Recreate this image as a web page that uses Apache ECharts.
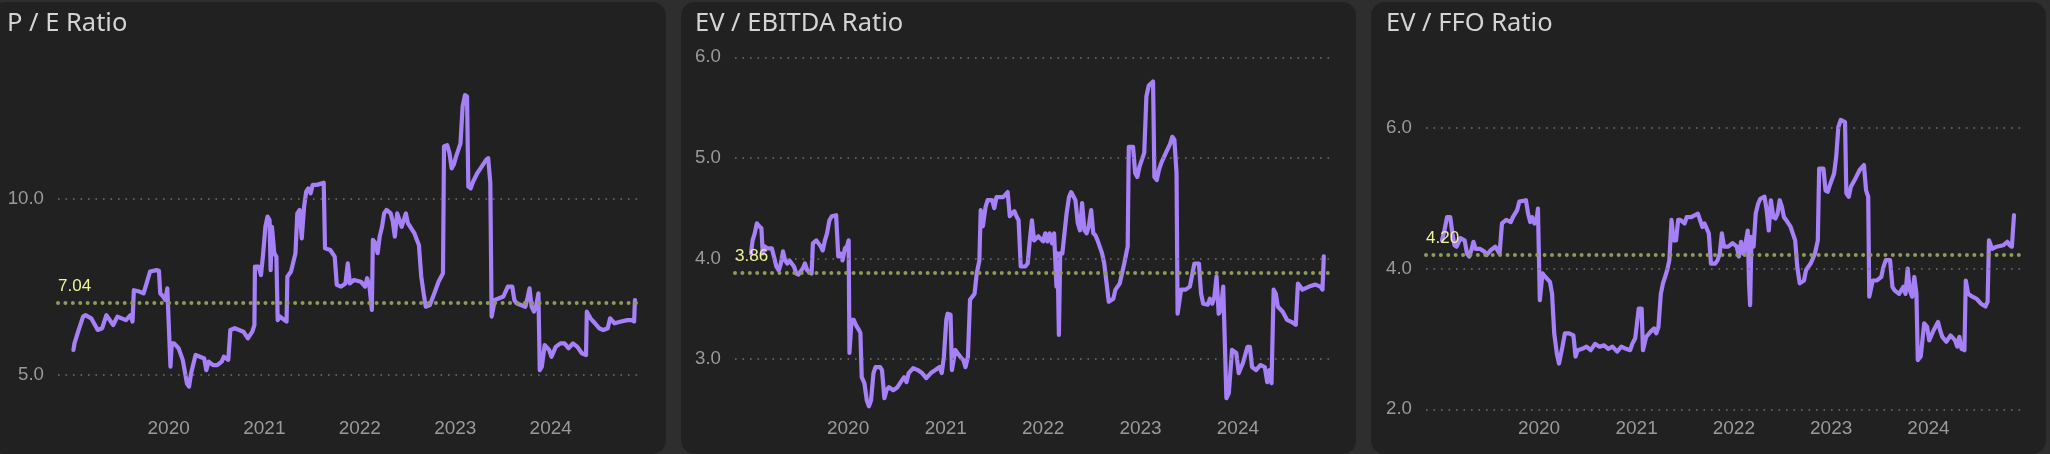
<!DOCTYPE html>
<html><head><meta charset="utf-8">
<script src="https://cdn.jsdelivr.net/npm/echarts@6/dist/echarts.min.js"></script>
<style>
html,body{margin:0;padding:0;background:#2e2e2e;width:2050px;height:454px;overflow:hidden;}
.panel{position:absolute;top:2px;height:452px;background:#212121;border-radius:14px;}
#chart{position:absolute;left:0;top:0;width:2050px;height:454px;}
</style></head><body>
<div class="panel" style="left:-9px;width:675px"></div>
<div class="panel" style="left:681px;width:675px"></div>
<div class="panel" style="left:1371px;width:675px"></div>
<div id="chart"></div>
<script>
const titles = ['P / E Ratio', 'EV / EBITDA Ratio', 'EV / FFO Ratio'];
const yearTicks = ['2020', '2021', '2022', '2023', '2024'];
const peTicks = [5, 10];
const ebitdaTicks = [3, 4, 5, 6];
const ffoTicks = [2, 4, 6];
const averages = [7.04, 3.86, 4.20];

const peDates = [
'2019-01-02','2019-01-06','2019-01-22','2019-02-08','2019-02-17','2019-03-11','2019-04-05','2019-04-22','2019-05-08','2019-06-03','2019-06-19','2019-07-22','2019-08-08','2019-08-16','2019-08-21','2019-09-11','2019-09-27','2019-10-05','2019-10-22','2019-11-16','2019-11-25','2019-11-30','2019-12-11','2019-12-19','2019-12-27',
'2020-01-02','2020-01-08','2020-01-13','2020-01-22','2020-02-08','2020-02-24','2020-03-11','2020-03-19','2020-03-27','2020-04-13','2020-04-30','2020-05-16','2020-05-24','2020-06-02','2020-06-19','2020-07-05','2020-07-22','2020-07-30','2020-08-16','2020-08-24','2020-09-10','2020-10-13','2020-10-30','2020-11-16','2020-11-24','2020-11-26','2020-12-10','2020-12-19','2020-12-27',
'2021-01-05','2021-01-13','2021-01-21','2021-01-25','2021-01-30','2021-02-08','2021-02-16','2021-02-21','2021-03-02','2021-03-19','2021-03-27','2021-03-30','2021-04-13','2021-04-30','2021-05-07','2021-05-16','2021-05-24','2021-06-02','2021-06-10','2021-06-18','2021-06-27','2021-07-05','2021-07-21','2021-08-16','2021-08-21','2021-09-10','2021-09-27','2021-10-05','2021-10-21','2021-11-07','2021-11-16','2021-11-24','2021-12-10',
'2022-01-05','2022-01-21','2022-01-29','2022-02-07','2022-02-16','2022-02-20','2022-03-02','2022-03-10','2022-03-18','2022-03-27','2022-04-04','2022-04-13','2022-04-29','2022-05-07','2022-05-15','2022-05-24','2022-06-10','2022-06-26','2022-07-04','2022-07-13','2022-07-29','2022-08-07','2022-08-15','2022-08-24','2022-09-02','2022-09-10','2022-09-26','2022-10-13','2022-10-29','2022-11-15','2022-11-19','2022-12-01','2022-12-10','2022-12-18','2022-12-26',
'2023-01-04','2023-01-21','2023-01-29','2023-02-07','2023-02-15','2023-02-20','2023-03-01','2023-03-10','2023-03-26','2023-04-12','2023-04-29','2023-05-07','2023-05-15','2023-05-20','2023-06-01','2023-06-18','2023-07-04','2023-07-21','2023-08-07','2023-08-15','2023-08-23','2023-09-09','2023-09-26','2023-10-04','2023-10-12','2023-10-20','2023-10-29','2023-11-07','2023-11-15','2023-11-20','2023-11-28','2023-12-09','2023-12-26',
'2024-01-04','2024-01-20','2024-02-07','2024-02-23','2024-03-09','2024-03-26','2024-04-12','2024-04-29','2024-05-15','2024-05-18','2024-06-01','2024-06-18','2024-07-04','2024-07-20','2024-08-06','2024-08-15','2024-09-01','2024-09-26','2024-10-20','2024-11-06','2024-11-15','2024-11-18'];
const peValues = [
5.71,5.90,6.28,6.66,6.70,6.61,6.28,6.33,6.70,6.42,6.66,6.56,6.70,6.52,7.41,7.37,7.32,7.51,7.94,7.98,7.96,7.32,7.23,7.13,7.46,
7.41,5.24,5.90,5.90,5.76,5.43,4.76,4.67,5.05,5.57,5.52,5.47,5.14,5.38,5.28,5.28,5.38,5.52,5.43,6.28,6.33,6.23,6.04,6.23,6.42,8.08,8.08,7.84,8.41,
9.21,9.50,9.40,7.98,9.21,8.46,8.36,6.56,6.66,6.56,6.52,7.79,7.94,8.46,9.59,9.69,8.88,9.78,10.21,10.30,10.16,10.40,10.40,10.46,8.60,8.55,8.36,7.56,7.51,7.60,8.17,7.60,7.70,
7.65,7.51,7.75,7.51,6.85,8.84,8.74,8.46,8.93,9.21,9.59,9.69,9.59,9.36,8.93,9.59,9.21,9.59,9.31,9.21,9.02,8.84,8.69,7.79,7.32,6.94,6.99,7.32,7.65,7.89,11.49,11.53,11.30,10.87,10.97,
11.20,11.58,12.62,12.95,12.91,10.35,10.30,10.49,10.73,10.92,11.11,11.16,10.45,6.66,7.13,7.18,7.23,7.51,7.51,7.13,7.04,6.99,6.94,7.18,7.46,6.94,6.80,6.99,7.32,5.14,5.24,5.85,5.71,
5.52,5.80,5.90,5.90,5.76,5.90,5.80,5.62,5.57,6.80,6.61,6.47,6.33,6.28,6.33,6.61,6.47,6.52,6.56,6.56,6.52,7.13];

const ebitdaDates = [
'2019-01-02','2019-01-08','2019-01-16','2019-01-24','2019-02-02','2019-02-10','2019-02-15','2019-02-22','2019-03-05','2019-03-21','2019-03-29','2019-04-07','2019-04-16','2019-04-24','2019-05-02','2019-05-10','2019-05-18','2019-05-26','2019-06-12','2019-06-21','2019-06-29','2019-07-15','2019-07-23','2019-08-01','2019-08-17','2019-08-22','2019-09-04','2019-09-20','2019-09-28','2019-10-06','2019-10-14','2019-10-23','2019-11-01','2019-11-17','2019-11-25','2019-12-03','2019-12-11','2019-12-20','2019-12-28',
'2020-01-03','2020-01-06','2020-01-14','2020-01-22','2020-01-30','2020-02-08','2020-02-16','2020-02-21','2020-03-02','2020-03-11','2020-03-19','2020-03-27','2020-04-05','2020-04-13','2020-04-30','2020-05-07','2020-05-16','2020-05-24','2020-06-02','2020-06-18','2020-07-04','2020-07-21','2020-07-29','2020-08-07','2020-08-15','2020-09-01','2020-09-18','2020-10-04','2020-10-20','2020-11-06','2020-11-23','2020-12-09','2020-12-17','2020-12-25',
'2021-01-03','2021-01-08','2021-01-19','2021-01-24','2021-02-06','2021-02-14','2021-02-28','2021-03-08','2021-03-16','2021-03-25','2021-04-02','2021-04-19','2021-04-27','2021-05-07','2021-05-12','2021-05-20','2021-05-30','2021-06-07','2021-06-24','2021-07-02','2021-07-10','2021-08-04','2021-08-21','2021-08-29','2021-09-15','2021-09-23','2021-10-01','2021-10-09','2021-10-26','2021-11-04','2021-11-12','2021-11-20','2021-11-28','2021-12-14',
'2022-01-01','2022-01-09','2022-01-17','2022-01-25','2022-02-03','2022-02-11','2022-02-20','2022-02-24','2022-03-01','2022-03-06','2022-03-14','2022-03-22','2022-03-30','2022-04-08','2022-04-16','2022-05-02','2022-05-11','2022-05-19','2022-05-27','2022-06-05','2022-06-13','2022-06-21','2022-06-30','2022-07-08','2022-07-16','2022-07-24','2022-08-10','2022-08-18','2022-08-27','2022-09-04','2022-09-21','2022-09-29','2022-10-15','2022-11-01','2022-11-14','2022-11-18','2022-12-04','2022-12-12','2022-12-20','2022-12-28',
'2023-01-15','2023-01-23','2023-02-01','2023-02-17','2023-02-22','2023-03-03','2023-03-11','2023-03-20','2023-04-06','2023-04-22','2023-04-30','2023-05-08','2023-05-16','2023-05-20','2023-06-02','2023-06-19','2023-07-05','2023-07-22','2023-08-08','2023-08-16','2023-08-24','2023-09-10','2023-09-18','2023-09-27','2023-10-05','2023-10-13','2023-10-21','2023-10-29','2023-11-07','2023-11-12','2023-11-19','2023-11-28','2023-12-10','2023-12-26',
'2024-01-04','2024-01-20','2024-02-06','2024-02-15','2024-02-23','2024-03-09','2024-03-25','2024-04-11','2024-04-20','2024-04-28','2024-05-06','2024-05-14','2024-05-22','2024-05-30','2024-06-17','2024-07-03','2024-07-19','2024-08-05','2024-08-13','2024-08-30','2024-09-24','2024-10-18','2024-11-05','2024-11-13','2024-11-18'];
const ebitdaValues = [
4.05,4.18,4.25,4.35,4.32,4.30,4.05,4.12,4.10,4.10,4.02,3.92,3.88,3.95,4.07,3.98,3.95,3.98,3.92,3.85,3.84,3.90,3.95,3.88,3.85,4.15,4.18,4.12,4.08,4.18,4.25,4.38,4.42,4.43,4.02,4.05,3.98,4.10,4.12,
4.18,3.06,3.39,3.39,3.34,3.30,3.26,2.82,2.76,2.59,2.53,2.59,2.86,2.92,2.92,2.89,2.61,2.69,2.72,2.69,2.72,2.79,2.82,2.77,2.86,2.91,2.89,2.86,2.81,2.86,2.89,2.92,2.86,3.02,
3.39,3.45,3.44,2.89,3.09,3.06,3.01,2.99,2.92,3.02,3.59,3.65,3.85,3.98,4.48,4.32,4.51,4.58,4.58,4.50,4.61,4.61,4.66,4.42,4.47,4.42,4.38,3.92,3.92,3.95,4.18,4.38,4.18,4.22,
4.17,4.25,4.17,4.25,4.15,4.25,3.72,4.05,3.24,4.05,4.05,4.25,4.45,4.61,4.66,4.58,4.35,4.28,4.55,4.28,4.25,4.32,4.48,4.25,4.23,4.18,4.05,3.95,3.75,3.57,3.60,3.69,3.75,3.95,4.12,5.11,5.11,4.85,4.81,4.91,
5.05,5.61,5.72,5.76,4.81,4.78,4.88,4.95,5.05,5.14,5.21,5.18,4.85,3.45,3.69,3.69,3.72,3.95,3.95,3.65,3.55,3.54,3.60,3.55,3.62,3.82,3.45,3.49,3.72,3.72,2.61,2.66,3.09,3.06,
2.86,2.96,3.12,3.12,2.92,2.89,2.94,2.92,2.77,2.89,2.76,3.69,3.65,3.52,3.47,3.39,3.37,3.34,3.75,3.69,3.72,3.74,3.72,3.69,4.02];

const ffoDates = [
'2019-01-02','2019-01-11','2019-01-21','2019-02-02','2019-02-10','2019-02-18','2019-02-26','2019-03-04','2019-03-12','2019-03-28','2019-04-06','2019-04-14','2019-04-22','2019-04-30','2019-05-08','2019-05-24','2019-06-10','2019-06-18','2019-07-04','2019-07-21','2019-08-06','2019-08-15','2019-08-31','2019-09-17','2019-09-25','2019-10-11','2019-10-19','2019-11-13','2019-11-21','2019-11-29','2019-12-07','2019-12-15','2019-12-23','2019-12-28',
'2020-01-04','2020-01-14','2020-01-25','2020-02-11','2020-02-19','2020-02-27','2020-03-08','2020-03-16','2020-03-29','2020-04-07','2020-04-23','2020-05-09','2020-05-17','2020-05-25','2020-06-11','2020-06-27','2020-07-13','2020-07-29','2020-08-15','2020-09-01','2020-09-17','2020-10-03','2020-10-20','2020-11-05','2020-11-22','2020-12-08','2020-12-16','2020-12-27',
'2021-01-09','2021-01-20','2021-01-25','2021-02-06','2021-02-22','2021-03-08','2021-03-16','2021-03-24','2021-04-02','2021-04-10','2021-04-18','2021-04-26','2021-05-04','2021-05-12','2021-05-20','2021-05-29','2021-06-06','2021-06-14','2021-06-30','2021-07-08','2021-07-25','2021-08-19','2021-08-27','2021-09-05','2021-09-13','2021-09-29','2021-10-07','2021-10-23','2021-11-01','2021-11-09','2021-11-17','2021-11-25','2021-12-11','2021-12-27',
'2022-01-12','2022-01-20','2022-01-28','2022-02-06','2022-02-14','2022-02-22','2022-02-27','2022-03-03','2022-03-08','2022-03-16','2022-03-24','2022-04-02','2022-04-10','2022-04-26','2022-05-04','2022-05-12','2022-05-20','2022-05-29','2022-06-06','2022-06-14','2022-06-22','2022-06-30','2022-07-08','2022-07-16','2022-08-02','2022-08-10','2022-08-19','2022-08-27','2022-09-05','2022-09-21','2022-09-29','2022-10-16','2022-11-01','2022-11-12','2022-11-17','2022-12-03','2022-12-11','2022-12-19','2022-12-27',
'2023-01-12','2023-01-20','2023-01-28','2023-02-06','2023-02-22','2023-02-27','2023-03-08','2023-03-16','2023-04-02','2023-04-18','2023-05-04','2023-05-12','2023-05-20','2023-05-24','2023-06-06','2023-06-22','2023-07-08','2023-07-16','2023-07-25','2023-08-10','2023-08-19','2023-08-27','2023-09-13','2023-09-29','2023-10-07','2023-10-15','2023-10-23','2023-11-01','2023-11-09','2023-11-17','2023-11-22','2023-12-03','2023-12-16','2023-12-27',
'2024-01-04','2024-01-20','2024-02-06','2024-02-14','2024-02-22','2024-03-08','2024-03-24','2024-04-10','2024-04-18','2024-04-26','2024-05-04','2024-05-15','2024-05-20','2024-05-29','2024-06-14','2024-06-30','2024-07-16','2024-08-02','2024-08-10','2024-08-15','2024-08-27','2024-09-13','2024-10-07','2024-10-23','2024-11-01','2024-11-09','2024-11-17'];
const ffoValues = [
4.40,4.54,4.73,4.73,4.50,4.33,4.31,4.36,4.43,4.40,4.21,4.17,4.26,4.38,4.28,4.28,4.24,4.19,4.26,4.31,4.21,4.64,4.69,4.66,4.73,4.83,4.95,4.97,4.78,4.66,4.73,4.64,4.69,4.85,
3.55,3.93,3.88,3.81,3.64,3.08,2.79,2.65,2.89,3.08,3.08,3.05,2.75,2.84,2.86,2.89,2.84,2.93,2.89,2.91,2.86,2.89,2.82,2.89,2.86,2.84,2.93,3.01,
3.43,3.43,2.84,3.03,3.10,3.15,3.08,3.17,3.64,3.79,3.88,3.98,4.12,4.69,4.40,4.40,4.69,4.69,4.64,4.73,4.73,4.78,4.69,4.59,4.64,4.50,4.07,4.07,4.12,4.21,4.50,4.31,4.31,4.36,
4.31,4.17,4.38,4.21,4.36,4.54,3.79,3.48,4.45,4.31,4.78,4.92,4.99,5.02,4.83,4.54,4.97,4.73,4.71,4.78,4.97,4.88,4.73,4.69,4.59,4.50,4.40,4.02,3.79,3.83,3.98,4.07,4.21,4.40,5.42,5.42,5.11,5.09,5.18,
5.35,5.59,6.01,6.11,6.08,5.07,5.02,5.16,5.28,5.40,5.47,5.11,5.02,3.60,3.83,3.83,3.88,4.02,4.12,4.12,3.74,3.69,3.64,3.74,3.64,4.00,3.69,3.60,3.88,3.64,2.70,2.75,3.22,3.17,
2.98,3.12,3.24,3.12,3.03,2.96,3.05,2.98,2.89,3.03,2.86,2.84,3.83,3.64,3.60,3.57,3.50,3.46,3.53,4.40,4.28,4.31,4.33,4.38,4.33,4.31,4.76];

const FONT = '"Liberation Sans", Arial, sans-serif';
const panels = [
  {dates: peDates, values: peValues, ticks: peTicks, avg: averages[0],
   grid: {left: 58, top: 50, width: 584, height: 362}, titleLeft: 7,
   xMin: '2018-11-04', xMax: '2024-12-15', yMin: 3.95, yMax: 14.23},
  {dates: ebitdaDates, values: ebitdaValues, ticks: ebitdaTicks, avg: averages[1],
   grid: {left: 735, top: 50, width: 600, height: 362}, titleLeft: 695,
   xMin: '2018-11-03', xMax: '2024-12-30', yMin: 2.473, yMax: 6.073},
  {dates: ffoDates, values: ffoValues, ticks: ffoTicks, avg: averages[2],
   grid: {left: 1426, top: 50, width: 600, height: 362}, titleLeft: 1386,
   xMin: '2018-11-03', xMax: '2025-01-01', yMin: 1.962, yMax: 7.104}
];
const parseT = (s) => echarts.time.parse(s).getTime();
const yearValues = yearTicks.map(parseT);
const yearLabel = (v) => {
  const k = yearValues.findIndex(t => Math.abs(t - v) < 86400000 * 2);
  return k >= 0 ? yearTicks[k] : '';
};

const chart = echarts.init(document.getElementById('chart'), null, {renderer: 'canvas'});
const option = {
  backgroundColor: 'transparent',
  animation: false,
  title: panels.map((p, i) => ({
    text: titles[i], left: p.titleLeft, top: 11, padding: 0,
    textStyle: {color: '#d4d4d4', fontSize: 25.5, fontWeight: 'normal', fontFamily: '"Noto Sans", "Open Sans", sans-serif'}
  })),
  grid: panels.map(p => p.grid),
  xAxis: panels.map((p, i) => ({
    type: 'time', gridIndex: i, min: p.xMin, max: p.xMax, splitNumber: 6,
    axisLine: {show: false}, axisTick: {show: false}, splitLine: {show: false},
    axisLabel: {
      color: '#9a9a9a', fontSize: 19, fontFamily: FONT, margin: 7,
      showMinLabel: false, showMaxLabel: false,
      formatter: (v) => yearLabel(v)
    }
  })),
  yAxis: panels.map((p, i) => ({
    type: 'value', gridIndex: i, min: p.yMin, max: p.yMax,
    axisLine: {show: false}, axisTick: {show: false}, splitLine: {show: false},
    axisLabel: {customValues: p.ticks, color: '#9a9a9a', fontSize: 18.7, fontFamily: FONT, margin: 14,
      formatter: (v) => Number(v).toFixed(1)}
  })),
  series: []
};
panels.forEach((p, i) => {
  option.series.push({
    type: 'line', xAxisIndex: i, yAxisIndex: i, data: [], z: 1, silent: true,
    markLine: {
      silent: true, symbol: ['none', 'none'], animation: false,
      data: p.ticks.map(t => ({yAxis: t, label: {show: false},
        lineStyle: {color: '#707070', width: 1.6, type: [1.6, 5.9], cap: 'butt'}})).concat([{
        yAxis: p.avg,
        lineStyle: {color: '#8e9a5e', width: 4, type: [0.01, 7.4], cap: 'round'},
        label: {show: true, position: 'insideStartTop', distance: [0, 8],
          formatter: (q) => Number(q.value).toFixed(2),
          color: '#eef39a', fontSize: 17, fontFamily: FONT}
      }])
    }
  });
  option.series.push({
    type: 'line', xAxisIndex: i, yAxisIndex: i, z: 3, showSymbol: false, silent: true,
    data: p.dates.map((d, k) => [d, p.values[k]]),
    lineStyle: {color: '#a680f6', width: 4.2, join: 'round', cap: 'round'},
    itemStyle: {color: '#a680f6'}
  });
});
chart.setOption(option);
</script>
</body></html>
